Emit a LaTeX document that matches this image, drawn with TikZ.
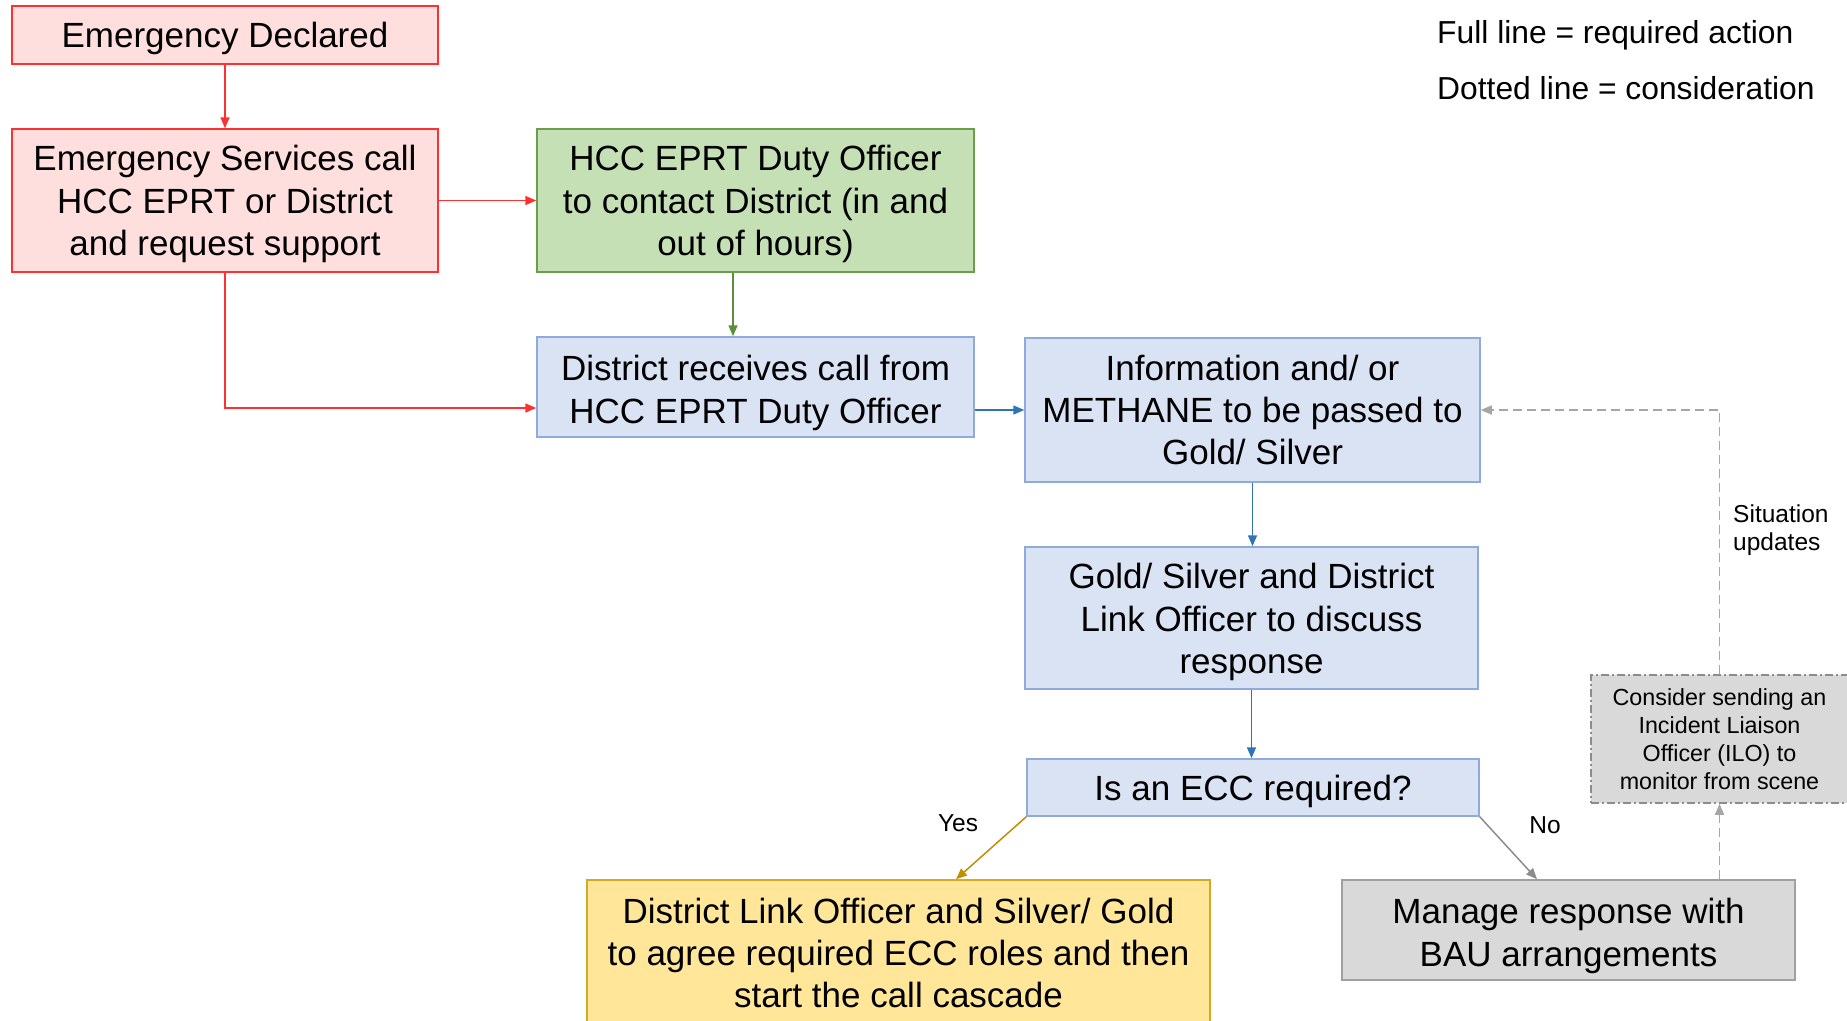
\documentclass[tikz,border=0pt]{standalone}
\usepackage{fontspec}
\setmainfont{Liberation Sans}
\usetikzlibrary{arrows.meta,calc}
\definecolor{redfill}{HTML}{FFDEDE}
\definecolor{redline}{HTML}{FF3030}
\definecolor{greenfill}{HTML}{C5E0B4}
\definecolor{greenline}{HTML}{6A9E48}
\definecolor{greenarrow}{HTML}{5B8F3A}
\definecolor{bluefill}{HTML}{DAE3F3}
\definecolor{blueline}{HTML}{8FAADC}
\definecolor{bluearrow}{HTML}{2E75B6}
\definecolor{yelfill}{HTML}{FFE699}
\definecolor{yelline}{HTML}{D6A828}
\definecolor{yelarrow}{HTML}{BF9000}
\definecolor{greyfill}{HTML}{D9D9D9}
\definecolor{greyline}{HTML}{A0A0A0}
\definecolor{greyarrow}{HTML}{8C8C8C}
\definecolor{dashgrey}{HTML}{A6A6A6}
\newcommand\txdown[1]{\rule{0pt}{#1}}
\tikzset{
  box/.style={draw, line width=1.5pt, inner sep=0pt, align=center,
    font=\fontsize{35}{42.4}\selectfont},
  smallbox/.style={draw, line width=1.5pt, inner sep=0pt, align=center,
    font=\fontsize{23.3}{28}\selectfont},
  conn/.style={line width=1.5pt, -{Triangle[length=11pt,width=9pt]}},
  dconn/.style={conn, dashgrey, dash pattern=on 9pt off 5pt},
  lbl/.style={inner sep=0pt, font=\fontsize{24.5}{28}\selectfont},
  legend/.style={inner sep=0pt, font=\fontsize{31.8}{38}\selectfont, anchor=base west}
}
\begin{document}
\begin{tikzpicture}[x=1pt,y=-1pt]
\useasboundingbox[fill=white] (0,0) rectangle (1847,1020);
\clip (0,0) rectangle (1847,1020);
% nodes
\node[box, fill=redfill, draw=redline, minimum width=426pt, minimum height=58pt] (ed) at (225,35) {\txdown{32.5pt}Emergency Declared};
\node[box, fill=redfill, draw=redline, minimum width=426pt, minimum height=143pt] (es) at (225,200.5) {\txdown{32.5pt}Emergency Services call\\HCC EPRT or District\\and request support};
\node[box, fill=greenfill, draw=greenline, minimum width=437pt, minimum height=143pt] (hcc) at (755.5,200.5) {\txdown{32.5pt}HCC EPRT Duty Officer\\to contact District (in and\\out of hours)};
\node[box, fill=bluefill, draw=blueline, minimum width=437pt, minimum height=100pt] (drc) at (755.5,387) {\txdown{37.3pt}District receives call from\\HCC EPRT Duty Officer};
\node[box, fill=bluefill, draw=blueline, minimum width=455pt, minimum height=144pt] (info) at (1252.5,410) {Information and/ or\\METHANE to be passed to\\Gold/ Silver};
\node[box, fill=bluefill, draw=blueline, minimum width=453pt, minimum height=142pt] (gs) at (1251.5,618) {\txdown{33.7pt}Gold/ Silver and District\\Link Officer to discuss\\response};
\node[box, fill=bluefill, draw=blueline, minimum width=452pt, minimum height=57pt] (ecc) at (1253,787.5) {\txdown{32.5pt}Is an ECC required?};
\node[box, fill=yelfill, draw=yelline, minimum width=623pt, minimum height=146pt] (yel) at (898.5,953) {District Link Officer and Silver/ Gold\\to agree required ECC roles and then\\start the call cascade};
\node[box, fill=greyfill, draw=greyline, minimum width=453pt, minimum height=100pt] (man) at (1568.5,930) {\txdown{37.3pt}Manage response with\\BAU arrangements};
\node[smallbox, fill=greyfill, draw=greyarrow, dash pattern=on 8pt off 3pt on 2pt off 3pt, minimum width=257pt, minimum height=128pt] (ilo) at (1719.5,739) {Consider sending an\\Incident Liaison\\Officer (ILO) to\\monitor from scene};
% labels
\node[lbl] (yes) at (958,823) {Yes};
\node[lbl] (no) at (1545,825) {No};
\node[lbl, anchor=west, align=left] (sit) at (1733,530.5) {Situation\\updates};
\node[legend] (leg1) at (1437,43) {Full line = required action};
\node[legend] (leg2) at (1437,99) {Dotted line = consideration};
% connectors
\draw[conn, redline] (ed.south) -- (es.north);
\draw[conn, redline] (es.east) -- (hcc.west);
\draw[conn, redline] (es.south) |- ([yshift=-21pt]drc.west);
\draw[conn, greenarrow] ([xshift=-22.5pt]hcc.south) -- ([xshift=-22.5pt]drc.north);
\draw[conn, bluearrow] (info.west -| drc.east) -- (info.west);
\draw[conn, bluearrow] (info.south) -- (info.south |- gs.north);
\draw[conn, bluearrow] (gs.south) -- (gs.south |- ecc.north);
\draw[conn, yelarrow] (ecc.south west) -- ([xshift=57.5pt]yel.north);
\draw[conn, greyarrow] (ecc.south east) -- ([xshift=-31.5pt]man.north);
\draw[dconn] (ilo.south |- man.north) -- (ilo.south);
\draw[dconn] (ilo.north) |- (info.east);
\end{tikzpicture}
\end{document}
